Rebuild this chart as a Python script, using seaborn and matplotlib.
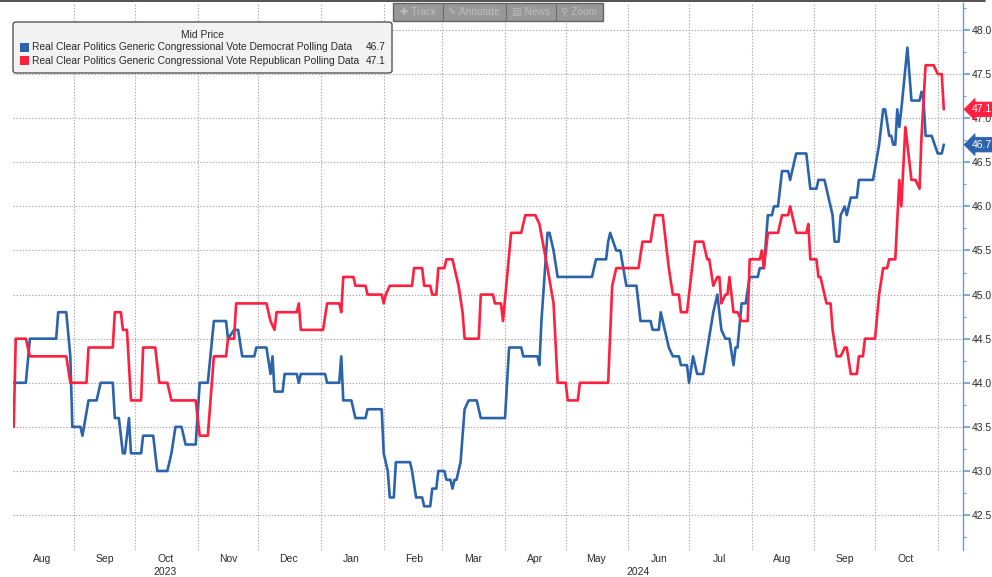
import matplotlib
matplotlib.use("Agg")
import matplotlib.pyplot as plt
import matplotlib.dates as mdates
import matplotlib.ticker as mticker
from matplotlib.patches import FancyBboxPatch, Rectangle
from matplotlib.lines import Line2D
from matplotlib.transforms import blended_transform_factory
import pandas as pd
import seaborn as sns

# ---------------- data ----------------
dem_dates = [
    "2023-08-02", "2023-08-08", "2023-08-10", "2023-08-23", "2023-08-24", "2023-08-28", "2023-08-30", "2023-08-31",
    "2023-09-04", "2023-09-05", "2023-09-08", "2023-09-12", "2023-09-14", "2023-09-20", "2023-09-21", "2023-09-23",
    "2023-09-25", "2023-09-26", "2023-09-28", "2023-09-29", "2023-10-04", "2023-10-05", "2023-10-10", "2023-10-12",
    "2023-10-17", "2023-10-19", "2023-10-21", "2023-10-24", "2023-10-26", "2023-10-31", "2023-11-02", "2023-11-06",
    "2023-11-09", "2023-11-15", "2023-11-16", "2023-11-19", "2023-11-21", "2023-11-23", "2023-11-29", "2023-11-30",
    "2023-12-05", "2023-12-07", "2023-12-08", "2023-12-09", "2023-12-13", "2023-12-14", "2023-12-20", "2023-12-21",
    "2023-12-22", "2024-01-03", "2024-01-04", "2024-01-10", "2024-01-11", "2024-01-12", "2024-01-16", "2024-01-18",
    "2024-01-23", "2024-01-24", "2024-01-31", "2024-02-01", "2024-02-03", "2024-02-04", "2024-02-06", "2024-02-07",
    "2024-02-14", "2024-02-15", "2024-02-17", "2024-02-20", "2024-02-21", "2024-02-24", "2024-02-25", "2024-02-27",
    "2024-02-28", "2024-03-02", "2024-03-03", "2024-03-05", "2024-03-06", "2024-03-07", "2024-03-08", "2024-03-10",
    "2024-03-11", "2024-03-12", "2024-03-14", "2024-03-18", "2024-03-20", "2024-04-01", "2024-04-03", "2024-04-09",
    "2024-04-10", "2024-04-17", "2024-04-18", "2024-04-19", "2024-04-22", "2024-04-23", "2024-04-25", "2024-04-27",
    "2024-05-14", "2024-05-16", "2024-05-21", "2024-05-22", "2024-05-23", "2024-05-26", "2024-05-28", "2024-05-31",
    "2024-06-05", "2024-06-07", "2024-06-12", "2024-06-13", "2024-06-16", "2024-06-17", "2024-06-19", "2024-06-21",
    "2024-06-23", "2024-06-26", "2024-06-27", "2024-06-30", "2024-07-01", "2024-07-03", "2024-07-05", "2024-07-08",
    "2024-07-13", "2024-07-15", "2024-07-17", "2024-07-19", "2024-07-21", "2024-07-23", "2024-07-24", "2024-07-25",
    "2024-07-27", "2024-07-29", "2024-07-31", "2024-08-04", "2024-08-05", "2024-08-07", "2024-08-09", "2024-08-11",
    "2024-08-12", "2024-08-14", "2024-08-16", "2024-08-19", "2024-08-20", "2024-08-21", "2024-08-23", "2024-08-28",
    "2024-08-30", "2024-09-02", "2024-09-03", "2024-09-06", "2024-09-08", "2024-09-10", "2024-09-11", "2024-09-13",
    "2024-09-14", "2024-09-16", "2024-09-17", "2024-09-19", "2024-09-22", "2024-09-23", "2024-09-30", "2024-10-03",
    "2024-10-05", "2024-10-06", "2024-10-08", "2024-10-09", "2024-10-10", "2024-10-11", "2024-10-12", "2024-10-13",
    "2024-10-14", "2024-10-17", "2024-10-19", "2024-10-23", "2024-10-24", "2024-10-25", "2024-10-26", "2024-10-29",
    "2024-11-01", "2024-11-03", "2024-11-04",
]
dem_values = [
    44.0, 44.0, 44.5, 44.5, 44.8, 44.8, 44.3, 43.5,
    43.5, 43.4, 43.8, 43.8, 44.0, 44.0, 43.6, 43.6,
    43.2, 43.2, 43.6, 43.2, 43.2, 43.4, 43.4, 43.0,
    43.0, 43.2, 43.5, 43.5, 43.3, 43.3, 44.0, 44.0,
    44.7, 44.7, 44.5, 44.6, 44.6, 44.3, 44.3, 44.4,
    44.4, 44.1, 44.3, 43.9, 43.9, 44.1, 44.1, 44.0,
    44.1, 44.1, 44.0, 44.0, 44.3, 43.8, 43.8, 43.6,
    43.6, 43.7, 43.7, 43.2, 43.0, 42.7, 42.7, 43.1,
    43.1, 43.0, 42.7, 42.7, 42.6, 42.6, 42.8, 42.8,
    43.0, 43.0, 42.9, 42.9, 42.8, 42.9, 42.9, 43.1,
    43.4, 43.7, 43.8, 43.8, 43.6, 43.6, 44.4, 44.4,
    44.3, 44.3, 44.2, 44.7, 45.7, 45.7, 45.5, 45.2,
    45.2, 45.4, 45.4, 45.6, 45.7, 45.5, 45.5, 45.1,
    45.1, 44.7, 44.7, 44.6, 44.6, 44.8, 44.6, 44.4,
    44.3, 44.3, 44.2, 44.2, 44.0, 44.3, 44.1, 44.1,
    44.8, 45.0, 44.6, 44.5, 44.5, 44.2, 44.4, 44.4,
    44.9, 44.9, 45.2, 45.2, 45.3, 45.3, 45.9, 45.9,
    46.0, 46.0, 46.4, 46.4, 46.3, 46.4, 46.6, 46.6,
    46.2, 46.2, 46.3, 46.3, 46.1, 45.9, 45.6, 45.6,
    45.9, 46.0, 45.9, 46.1, 46.1, 46.3, 46.3, 46.7,
    47.1, 47.1, 46.8, 46.8, 46.7, 46.7, 47.1, 46.9,
    47.1, 47.8, 47.2, 47.2, 47.3, 47.2, 46.8, 46.8,
    46.6, 46.6, 46.7,
]

rep_dates = [
    "2023-08-02", "2023-08-03", "2023-08-08", "2023-08-10", "2023-08-28", "2023-08-30", "2023-09-07", "2023-09-08",
    "2023-09-20", "2023-09-21", "2023-09-24", "2023-09-25", "2023-09-27", "2023-09-29", "2023-10-04", "2023-10-05",
    "2023-10-11", "2023-10-13", "2023-10-17", "2023-10-19", "2023-10-31", "2023-11-02", "2023-11-06", "2023-11-09",
    "2023-11-15", "2023-11-16", "2023-11-19", "2023-11-20", "2023-12-05", "2023-12-07", "2023-12-09", "2023-12-10",
    "2023-12-20", "2023-12-21", "2023-12-22", "2024-01-02", "2024-01-04", "2024-01-10", "2024-01-11", "2024-01-12",
    "2024-01-17", "2024-01-18", "2024-01-23", "2024-01-24", "2024-01-31", "2024-02-01", "2024-02-02", "2024-02-04",
    "2024-02-15", "2024-02-16", "2024-02-20", "2024-02-21", "2024-02-24", "2024-02-25", "2024-02-27", "2024-02-28",
    "2024-03-02", "2024-03-03", "2024-03-06", "2024-03-07", "2024-03-09", "2024-03-11", "2024-03-12", "2024-03-19",
    "2024-03-20", "2024-03-26", "2024-03-27", "2024-03-30", "2024-03-31", "2024-04-04", "2024-04-09", "2024-04-11",
    "2024-04-16", "2024-04-18", "2024-04-22", "2024-04-25", "2024-04-27", "2024-05-01", "2024-05-02", "2024-05-07",
    "2024-05-08", "2024-05-22", "2024-05-24", "2024-05-26", "2024-06-06", "2024-06-08", "2024-06-12", "2024-06-14",
    "2024-06-18", "2024-06-19", "2024-06-21", "2024-06-23", "2024-06-26", "2024-06-27", "2024-06-30", "2024-07-04",
    "2024-07-08", "2024-07-10", "2024-07-11", "2024-07-13", "2024-07-15", "2024-07-16", "2024-07-17", "2024-07-19",
    "2024-07-20", "2024-07-21", "2024-07-23", "2024-07-25", "2024-07-27", "2024-07-30", "2024-07-31", "2024-08-05",
    "2024-08-06", "2024-08-07", "2024-08-09", "2024-08-14", "2024-08-16", "2024-08-19", "2024-08-20", "2024-08-23",
    "2024-08-28", "2024-08-29", "2024-08-30", "2024-09-02", "2024-09-03", "2024-09-04", "2024-09-05", "2024-09-07",
    "2024-09-09", "2024-09-10", "2024-09-12", "2024-09-14", "2024-09-16", "2024-09-17", "2024-09-19", "2024-09-22",
    "2024-09-23", "2024-09-25", "2024-09-26", "2024-10-01", "2024-10-03", "2024-10-05", "2024-10-07", "2024-10-08",
    "2024-10-11", "2024-10-13", "2024-10-14", "2024-10-16", "2024-10-19", "2024-10-21", "2024-10-23", "2024-10-24",
    "2024-10-26", "2024-10-30", "2024-11-01", "2024-11-03", "2024-11-04",
]
rep_values = [
    43.5, 44.5, 44.5, 44.3, 44.3, 44.0, 44.0, 44.4,
    44.4, 44.8, 44.8, 44.6, 44.6, 43.8, 43.8, 44.4,
    44.4, 44.0, 44.0, 43.8, 43.8, 43.4, 43.4, 44.3,
    44.3, 44.5, 44.5, 44.9, 44.9, 44.7, 44.6, 44.8,
    44.8, 44.9, 44.6, 44.6, 44.9, 44.9, 44.8, 45.2,
    45.2, 45.1, 45.1, 45.0, 45.0, 44.9, 45.0, 45.1,
    45.1, 45.3, 45.3, 45.1, 45.1, 45.0, 45.0, 45.3,
    45.3, 45.4, 45.4, 45.3, 45.1, 44.8, 44.5, 44.5,
    45.0, 45.0, 44.9, 44.9, 44.7, 45.7, 45.7, 45.9,
    45.9, 45.8, 45.3, 44.9, 44.0, 44.0, 43.8, 43.8,
    44.0, 44.0, 45.1, 45.3, 45.3, 45.6, 45.6, 45.9,
    45.9, 45.7, 45.3, 45.0, 45.0, 44.8, 44.8, 45.6,
    45.6, 45.4, 45.4, 45.1, 45.2, 45.2, 44.9, 45.0,
    45.0, 45.2, 44.8, 44.8, 44.7, 44.7, 45.4, 45.4,
    45.5, 45.3, 45.7, 45.7, 45.9, 45.9, 46.0, 45.7,
    45.7, 45.8, 45.4, 45.4, 45.2, 45.2, 45.1, 44.9,
    44.9, 44.6, 44.3, 44.3, 44.4, 44.4, 44.1, 44.1,
    44.3, 44.3, 44.5, 44.5, 45.0, 45.3, 45.3, 45.4,
    45.4, 46.3, 46.0, 46.9, 46.3, 46.3, 46.2, 46.8,
    47.6, 47.6, 47.5, 47.5, 47.1,
]

month_labels = ["Aug", "Sep", "Oct", "Nov", "Dec", "Jan", "Feb", "Mar", "Apr",
                "May", "Jun", "Jul", "Aug", "Sep", "Oct"]
year_labels = ["2023", "2024"]
legend_title = "Mid Price"
dem_label = "Real Clear Politics Generic Congressional Vote Democrat Polling Data"
rep_label = "Real Clear Politics Generic Congressional Vote Republican Polling Data"
dem_last = 46.7
rep_last = 47.1
toolbar_items = ["\u271a Track", "\u270e Annotate", "\u25a4 News", "\u26b2 Zoom"]

# ---------------- style ----------------
BLUE = "#2b64aa"
RED = "#ff1f3f"
AXIS_BLUE = "#6c9bd0"
GRID = "#a8a8a8"
TEXT = "#2a2a2a"

sns.set_theme(style="white")
plt.rcParams["font.family"] = ["Liberation Sans", "DejaVu Sans"]

W, H = 992, 577
fig = plt.figure(figsize=(W / 100, H / 100), dpi=100)
fig.patch.set_facecolor("white")

ax_left, ax_right, ax_top, ax_bottom = 12.7, 963.0, 3.0, 550.0
ax = fig.add_axes([ax_left / W, 1 - ax_bottom / H, (ax_right - ax_left) / W, (ax_bottom - ax_top) / H])
ax.set_facecolor("white")

df_dem = pd.DataFrame({"date": pd.to_datetime(dem_dates), "value": dem_values})
df_rep = pd.DataFrame({"date": pd.to_datetime(rep_dates), "value": rep_values})

sns.lineplot(data=df_dem, x="date", y="value", color=BLUE, linewidth=1.9,
             estimator=None, sort=False, ax=ax, zorder=4)
sns.lineplot(data=df_rep, x="date", y="value", color=RED, linewidth=1.9,
             estimator=None, sort=False, ax=ax, zorder=5)

# axis limits
ax.set_xlim(pd.Timestamp("2023-08-01 12:00"), pd.Timestamp("2024-11-13 12:00"))
ax.set_ylim(42.104, 48.306)
ax.set_xlabel("")
ax.set_ylabel("")

# y axis on the right
ax.yaxis.tick_right()
ax.yaxis.set_major_locator(mticker.MultipleLocator(0.5))
ax.yaxis.set_minor_locator(mticker.MultipleLocator(0.25))
ax.yaxis.set_major_formatter(mticker.FormatStrFormatter("%.1f"))
ax.tick_params(axis="y", which="major", right=True, left=False, length=5, width=1.2,
               color=AXIS_BLUE, labelsize=7.5, labelcolor=TEXT, pad=1.5, direction="out")
ax.tick_params(axis="y", which="minor", right=True, left=False, length=2.5, width=0.8,
               color=AXIS_BLUE, direction="out")

# x axis: month labels mid-month, gridlines at month starts
month_starts = pd.date_range("2023-08-01", "2024-10-01", freq="MS")
mid_months = month_starts + pd.Timedelta(days=15)
ax.set_xticks(mid_months)
ax.set_xticklabels(month_labels)
ax.xaxis.set_minor_locator(mdates.MonthLocator())
ax.tick_params(axis="x", which="both", length=0, labelsize=7.5, labelcolor=TEXT, pad=3)

ax.grid(False)
ax.xaxis.grid(True, which="minor", linestyle=(0, (1.2, 1.6)), color=GRID, linewidth=0.8)
ax.yaxis.grid(True, which="major", linestyle=(0, (1.2, 1.6)), color=GRID, linewidth=0.8)

for side in ["left", "top", "bottom"]:
    ax.spines[side].set_visible(False)
ax.spines["right"].set_color(AXIS_BLUE)
ax.spines["right"].set_linewidth(1.0)

# year labels
tr = blended_transform_factory(ax.transData, ax.transAxes)
ax.text(pd.Timestamp("2023-10-16"), -0.041, year_labels[0], transform=tr,
        ha="center", va="center", fontsize=7.5, color=TEXT)
ax.text(pd.Timestamp("2024-06-06"), -0.041, year_labels[1], transform=tr,
        ha="center", va="center", fontsize=7.5, color=TEXT)

# last value tags on the right axis
for val, col in [(rep_last, RED), (dem_last, BLUE)]:
    ax.annotate(f"{val:.1f}", xy=(1.0, val), xycoords=("axes fraction", "data"),
                xytext=(6.5, 0), textcoords="offset points", ha="left", va="center",
                fontsize=7.5, color="white", annotation_clip=False, zorder=10,
                bbox=dict(boxstyle="larrow,pad=0.22", fc=col, ec=col, lw=0.6))


# ---------------- figure-pixel helpers ----------------
def fx(x):
    return x / W


def fy(y):
    return 1 - y / H


# legend box
leg = FancyBboxPatch((fx(13), fy(73)), fx(392) - fx(13), fy(22) - fy(73),
                     boxstyle="round,pad=0,rounding_size=0.004", transform=fig.transFigure,
                     fc="#f2f2f2", ec="#555555", lw=1.0, zorder=20)
fig.patches.append(leg)
fig.text(fx(202), fy(35), legend_title, ha="center", va="center", fontsize=7.4, color=TEXT, zorder=21)
for yc, col, lab, val in [(47.5, BLUE, dem_label, dem_last), (60.5, RED, rep_label, rep_last)]:
    fig.patches.append(Rectangle((fx(20), fy(yc + 4.5)), fx(9), fy(yc - 4.5) - fy(yc + 4.5),
                                 transform=fig.transFigure, fc=col, ec="none", zorder=21))
    fig.text(fx(32), fy(yc), lab, ha="left", va="center", fontsize=7.4, color=TEXT, zorder=21)
    fig.text(fx(386), fy(yc), f"{val:.1f}", ha="right", va="center", fontsize=7.4, color=TEXT, zorder=21)

# toolbar overlay
fig.patches.append(Rectangle((fx(393), fy(21)), fx(603) - fx(393), fy(3) - fy(21),
                             transform=fig.transFigure, fc="#8f8f8f", ec="#5a5a5a", lw=1.0,
                             alpha=0.92, zorder=20))
for sx in [443, 506, 556]:
    fig.lines.append(Line2D([fx(sx), fx(sx)], [fy(20), fy(4)], transform=fig.transFigure,
                            color="#6e6e6e", lw=0.8, zorder=21))
for cx, lab in zip([418, 474, 531, 579], toolbar_items):
    fig.text(fx(cx), fy(12), lab, ha="center", va="center", fontsize=7.3, color="#bdbdbd",
             zorder=22, family=["Liberation Sans", "DejaVu Sans"])

# thin dark rule at very top (cropped header edge)
fig.lines.append(Line2D([0, fx(985)], [fy(1.0), fy(1.0)], transform=fig.transFigure,
                        color="#333333", lw=1.2, zorder=30))

fig.savefig("out.png", dpi=100, facecolor="white")
